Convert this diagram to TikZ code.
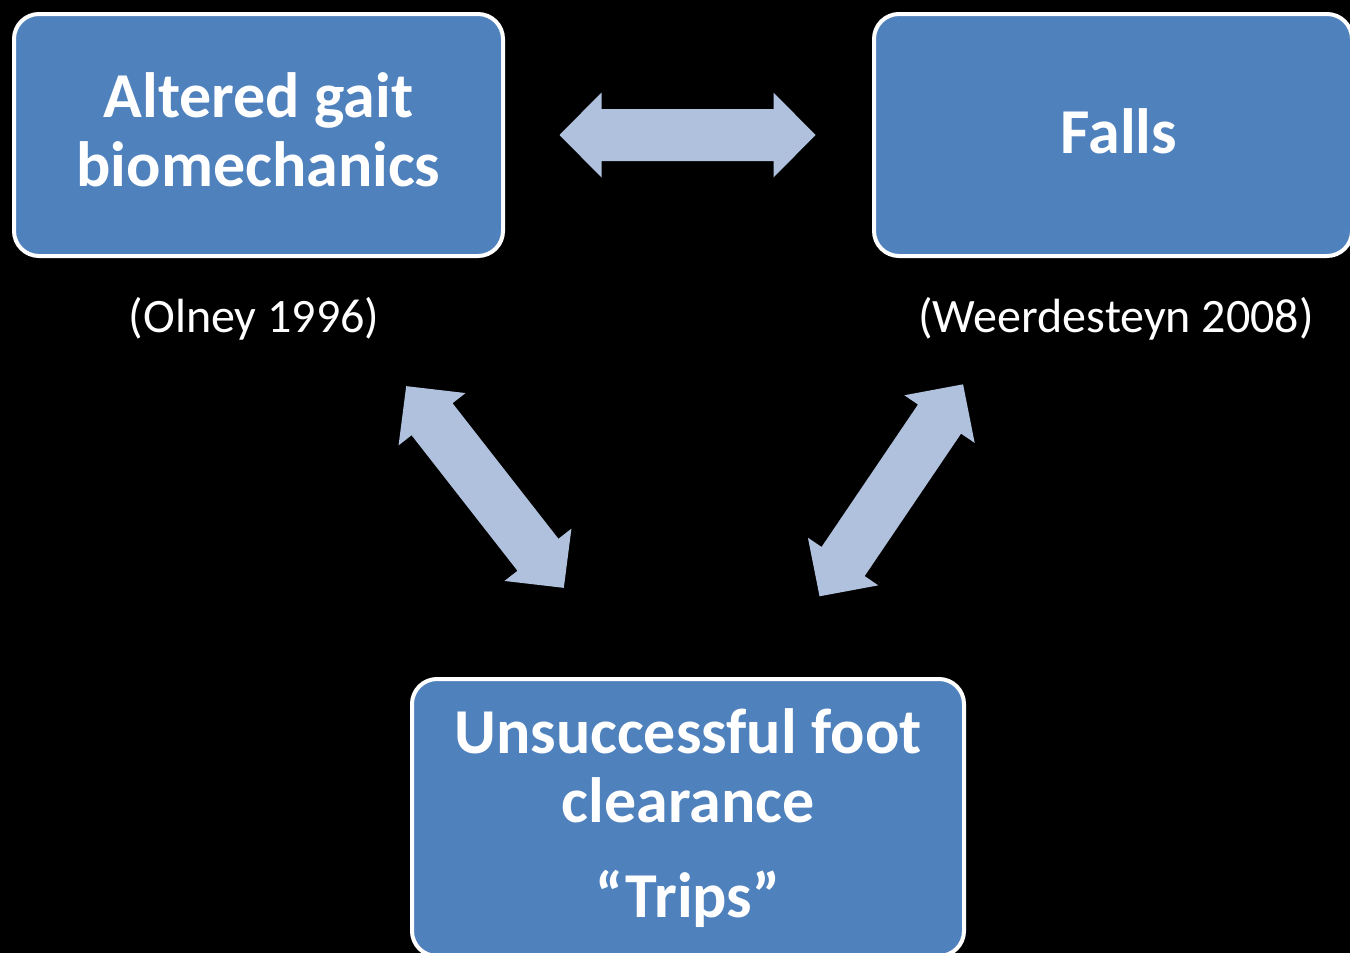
\documentclass[tikz,border=0pt]{standalone}
\usepackage{fontspec}
\setmainfont{Carlito}
\definecolor{boxblue}{HTML}{4F81BD}
\definecolor{arrowblue}{HTML}{B0C1DD}
\newcommand\blockdblarrow[2]{%
  \begin{scope}[shift={#1}, rotate=#2]
    \fill[arrowblue] (-128,0) -- (-86,-42.5) -- (-86,-26) -- (86,-26) -- (86,-42.5)
      -- (128,0) -- (86,42.5) -- (86,26) -- (-86,26) -- (-86,42.5) -- cycle;
  \end{scope}}
\begin{document}
\begin{tikzpicture}[x=0.5pt,y=-0.5pt,
  gbox/.style={draw=white, line width=2pt, fill=boxblue, rounded corners=12.5pt,
    inner sep=0pt},
  boxtext/.style={text=white, align=center, inner sep=0pt,
    font=\fontsize{32}{34.5}\selectfont\bfseries},
  cite/.style={text=white, inner sep=0pt, font=\fontsize{24}{28}\selectfont}]
\fill[black] (0,0) rectangle (1350,953);
\useasboundingbox (0,0) rectangle (1350,953);
\node[gbox, minimum width=244.5pt, minimum height=121pt] (gait) at (258.5,135) {};
\node[boxtext] (gaittext) at (258.5,130) {Altered gait\\biomechanics};
\node[gbox, minimum width=239pt, minimum height=121pt] (falls) at (1113,135) {};
\node[boxtext] (fallstext) at (1119,131) {Falls};
\node[gbox, minimum width=276pt, minimum height=138.5pt] (trips) at (688,817.5) {};
\node[boxtext] (tripstext) at (688,818.5)
  {Unsuccessful foot\\clearance\\[13pt]“Trips”};
\node[cite] (olney) at (254,319) {(Olney 1996)};
\node[cite] (weer) at (1116,319) {(Weerdesteyn 2008)};
\blockdblarrow{(687.5,135)}{0}
\blockdblarrow{(485,487)}{-52}
\blockdblarrow{(891.3,490.3)}{55.9}
\end{tikzpicture}
\end{document}
